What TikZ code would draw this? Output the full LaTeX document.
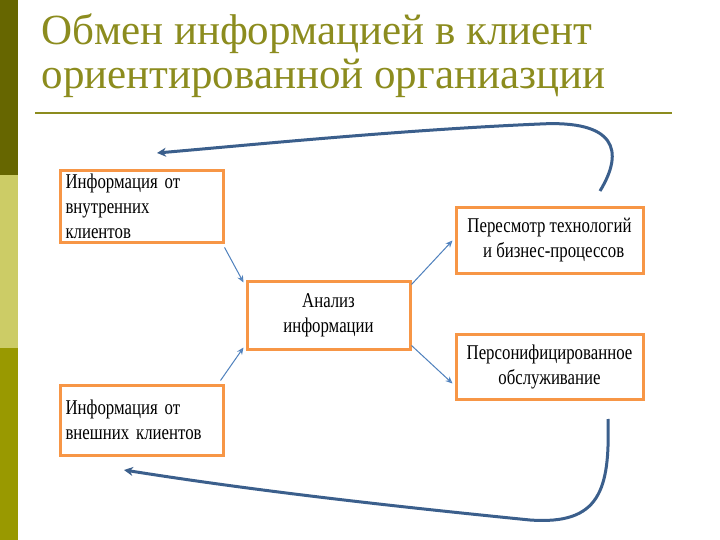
\documentclass[tikz,border=0pt]{standalone}
\usepackage{fontspec}
\setmainfont{Liberation Serif}
\newfontfamily\cond[FakeStretch=0.8]{Liberation Serif}
\usetikzlibrary{arrows.meta}
\definecolor{olive1}{HTML}{666600}
\definecolor{olive2}{HTML}{CCCC66}
\definecolor{olive3}{HTML}{999900}
\definecolor{titlec}{HTML}{8C8C1E}
\definecolor{boxc}{HTML}{F79646}
\definecolor{thin}{HTML}{4F81BD}
\definecolor{thick}{HTML}{3B5F8C}
\tikzset{
 box/.style={draw=boxc,line width=3pt,fill=white,font=\cond\fontsize{21}{25}\selectfont,align=center,inner sep=4pt},
 thinarr/.style={draw=thin,line width=1pt,-{Stealth[length=7pt,width=6pt,open]}},
 thickarr/.style={draw=thick,line width=3pt,-{Stealth[length=9pt,width=9pt]}},
 ttl/.style={anchor=west,text=titlec,font=\fontsize{43}{46}\selectfont}
}
\begin{document}
\begin{tikzpicture}[x=1pt,y=-1pt]
\useasboundingbox (0,0) rectangle (720,540);
\fill[white] (0,0) rectangle (720,540);
\fill[olive1] (0,0) rectangle (18,175);
\fill[olive2] (0,175) rectangle (18,348);
\fill[olive3] (0,348) rectangle (18,540);
\node[ttl] (t1) at (38,34) {Обмен информацией в клиент};
\node[ttl] (t2) at (38,78) {ориентированной органиазции};
\draw[titlec,line width=1.5pt] (35,113) -- (672,113);
\node[box,minimum width=163pt,minimum height=63pt,align=left,text width=152pt] (b1) at (141.5,206.5) {Информация от\\внутренних клиентов};
\node[box,minimum width=163pt,minimum height=70pt,align=left,text width=152pt] (b2) at (141.5,420) {Информация от\\внешних клиентов};
\node[box,minimum width=163pt,minimum height=68pt] (c) at (328.5,315) {Анализ\\информации};
\node[box,minimum width=187pt,minimum height=65pt] (b3) at (549.5,240.5) {Пересмотр технологий\\\ \ и бизнес-процессов};
\node[box,minimum width=187pt,minimum height=65pt] (b4) at (549.5,366.5) {Персонифицированное\\обслуживание};
\draw[thinarr] (b1.south east)++(0,3) -- ([xshift=-2pt,yshift=-3pt]c.north west);
\draw[thinarr] (b2.north east)++(-4,-3) -- ([xshift=-2pt,yshift=3pt]c.south west);
\draw[thinarr] ([yshift=-5pt]c.north east) -- ([xshift=-2pt]b3.west);
\draw[thinarr] ([yshift=5pt]c.south east) -- ([xshift=-2pt,yshift=-17pt]b4.west);
\coordinate (s1) at (600,191);
\coordinate (e1) at (157,153);
\coordinate (s2) at (608,419);
\coordinate (e2) at (124,470);
\draw[thickarr] (s1) .. controls (625,150) and (615,120) .. (540,124) .. controls (400,130) and (250,145) .. (e1);
\draw[thickarr] (s2) .. controls (610,490) and (600,525) .. (530,520) .. controls (380,505) and (250,490) .. (e2);
\end{tikzpicture}
\end{document}
